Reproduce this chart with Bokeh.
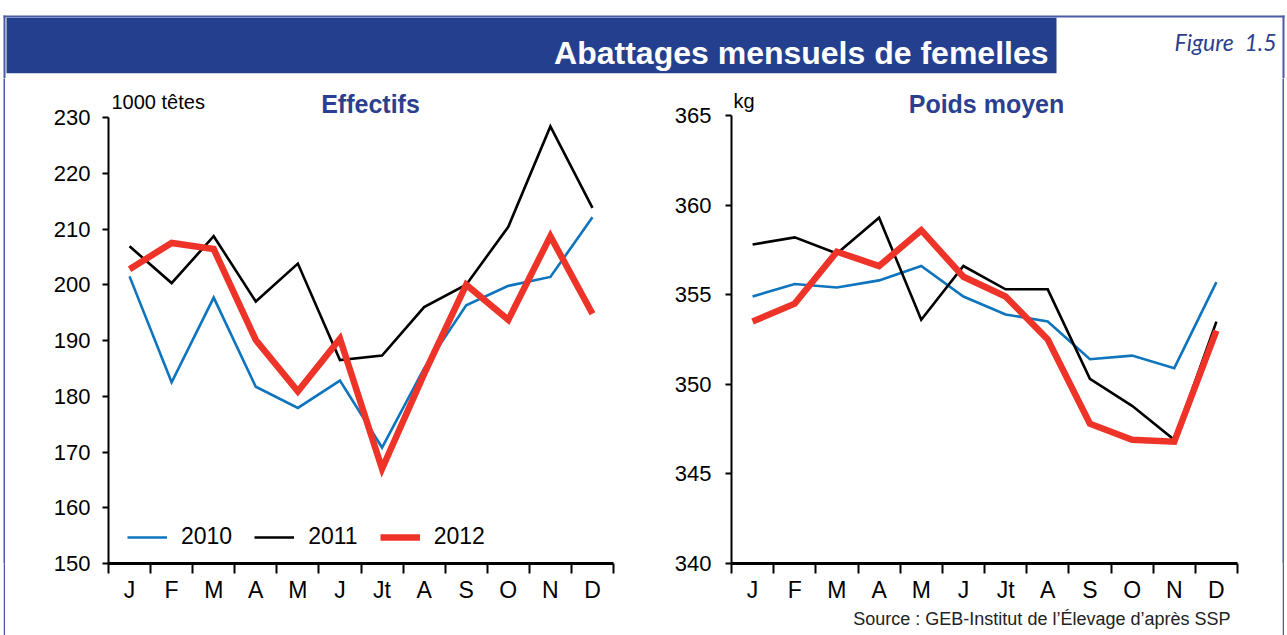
from bokeh.plotting import figure
from bokeh.layouts import column, row, Spacer
from bokeh.models import Range1d, FixedTicker, Label, Legend, LegendItem, Title
from bokeh.embed import file_html
from bokeh.resources import INLINE
from bokeh.core.properties import value

# ---------------- data ----------------
months = ["J", "F", "M", "A", "M", "J", "Jt", "A", "S", "O", "N", "D"]
years = ["2010", "2011", "2012"]

eff_2010 = [201.5, 182.5, 197.7, 181.7, 177.9, 182.8, 170.8, 185.0, 196.3, 199.8, 201.4, 212.1]
eff_2011 = [206.9, 200.3, 208.7, 197.0, 203.8, 186.5, 187.3, 196.0, 200.0, 210.4, 228.4, 213.8]
eff_2012 = [202.8, 207.5, 206.4, 190.1, 180.9, 190.3, 167.0, 184.0, 200.0, 193.7, 208.7, 194.8]

poids_2010 = [354.9, 355.6, 355.4, 355.8, 356.6, 354.9, 353.9, 353.5, 351.4, 351.6, 350.9, 355.7]
poids_2011 = [357.8, 358.2, 357.3, 359.3, 353.6, 356.6, 355.3, 355.3, 350.3, 348.8, 346.9, 353.5]
poids_2012 = [353.5, 354.5, 357.4, 356.6, 358.6, 356.0, 354.9, 352.5, 347.8, 346.9, 346.8, 353.0]

eff_ticks = [150, 160, 170, 180, 190, 200, 210, 220, 230]
poids_ticks = [340, 345, 350, 355, 360, 365]

title_text = "Abattages mensuels de femelles"
figure_text = "Figure\u00a0\u00a01.5"
source_text = "Source : GEB-Institut de l\u2019\u00c9levage d\u2019apr\u00e8s SSP"

# ---------------- styles ----------------
BLUE = "#0d74bd"
BLACK = "#000000"
RED = "#ee3328"
NAVY = "#253f8f"
TITLE_BLUE = "#2c3f8f"
BORDER = "#4b5aa6"
FONT = "Liberation Sans"

W = 1287
HEAD_H = 78
CH_H = 557
FRAME_H = 485          # frame reaches the top of the chart figures
BOTTOM_H = CH_H - FRAME_H
AXIS_PX = {"eff": 446, "poids": 448}   # pixel height of the tick span on each chart
x_pos = list(range(len(months)))


def make_chart(fig_w, border_left, frame_w, ticks, tick_px, ystand):
    lo, hi = ticks[0], ticks[-1]
    y_end = lo + (hi - lo) * FRAME_H / tick_px
    p = figure(width=fig_w, height=CH_H, frame_width=frame_w, frame_height=FRAME_H,
               min_border_left=border_left, min_border_right=fig_w - border_left - frame_w,
               min_border_top=0, min_border_bottom=BOTTOM_H,
               x_range=Range1d(-0.5, len(months) - 0.5), y_range=Range1d(lo, y_end),
               output_backend="svg", toolbar_location=None)
    p.grid.visible = False
    p.outline_line_color = None
    p.background_fill_color = "white"
    p.border_fill_color = "white"

    xa = p.xaxis[0]
    xa.ticker = FixedTicker(ticks=x_pos, minor_ticks=[i - 0.5 for i in range(len(months) + 1)])
    xa.major_label_overrides = {i: m for i, m in enumerate(months)}
    xa.major_tick_out = 0
    xa.major_tick_in = 0
    xa.minor_tick_out = 10
    xa.minor_tick_in = 0
    xa.minor_tick_line_width = 2
    xa.minor_tick_line_color = "black"
    xa.axis_line_width = 3
    xa.axis_line_color = "black"
    xa.major_label_standoff = 3
    xa.major_label_text_font = FONT
    xa.major_label_text_font_size = "23px"
    xa.major_label_text_color = "black"

    ya = p.yaxis[0]
    ya.ticker = FixedTicker(ticks=ticks)
    ya.bounds = (lo, hi)
    ya.major_tick_out = 6
    ya.major_tick_in = 0
    ya.minor_tick_out = 0
    ya.minor_tick_in = 0
    ya.major_tick_line_width = 2
    ya.major_tick_line_color = "black"
    ya.axis_line_width = 2
    ya.axis_line_color = "black"
    ya.major_label_standoff = ystand
    ya.major_label_text_font = FONT
    ya.major_label_text_font_size = "22px"
    ya.major_label_text_color = "black"
    return p


def add_series(p, s10, s11, s12):
    r10 = p.line(x_pos, s10, line_color=BLUE, line_width=2.6, line_join="miter")
    r11 = p.line(x_pos, s11, line_color=BLACK, line_width=2.6, line_join="miter")
    r12 = p.line(x_pos, s12, line_color=RED, line_width=6.5, line_join="miter")
    return [r10, r11, r12]


def screen_label(p, x, y, text, size, color="black", bold=False, align="left", font=FONT):
    p.add_layout(Label(x=x, y=y, x_units="screen", y_units="screen", text=text,
                       text_font=font, text_font_size=size, text_color=color,
                       text_font_style="bold" if bold else "normal",
                       text_align=align, text_baseline="alphabetic"))


# ---------------- header ----------------
header = figure(width=W, height=HEAD_H, x_range=Range1d(0, W), y_range=Range1d(HEAD_H, 0),
                min_border=0, x_axis_type=None, y_axis_type=None,
                output_backend="svg", toolbar_location=None)
header.grid.visible = False
header.outline_line_color = None
header.background_fill_color = "white"
header.border_fill_color = "white"
header.quad(left=[3], right=[1284], top=[15], bottom=[17], fill_color=BORDER, line_color=None)
header.quad(left=[3, 1282], right=[5, 1284], top=[15, 15], bottom=[HEAD_H, HEAD_H],
            fill_color=BORDER, line_color=None)
header.quad(left=[6], right=[1056], top=[17.3], bottom=[72.7], fill_color=NAVY, line_color=None)
header.text(x=[1048], y=[52.7], text=[title_text], text_align="right", text_baseline="alphabetic",
            text_font=value(FONT), text_font_style="bold", text_font_size="32px", text_color="white")
header.text(x=[1276], y=[41.7], text=[figure_text], text_align="right", text_baseline="alphabetic",
            text_font=value("Lato"), text_font_style="italic", text_font_size="23px", text_color=TITLE_BLUE)

# ---------------- left chart ----------------
left = make_chart(655, 103, 505, eff_ticks, AXIS_PX["eff"], 12)
rl = add_series(left, eff_2010, eff_2011, eff_2012)
legend = Legend(items=[LegendItem(label=y, renderers=[r]) for y, r in zip(years, rl)],
                orientation="horizontal", location=(19, 13),
                glyph_width=40, glyph_height=26, label_height=26, label_standoff=14, spacing=22,
                padding=0, margin=0, border_line_color=None, background_fill_alpha=0,
                label_text_font=FONT, label_text_font_size="23px", label_text_color="black")
left.add_layout(legend)
screen_label(left, 3, 462, "1000 t\u00eates", "20px")
screen_label(left, 262, 460, "Effectifs", "25px", TITLE_BLUE, bold=True, align="center")

# ---------------- right chart ----------------
right = make_chart(622, 71, 506, poids_ticks, AXIS_PX["poids"], 14)
add_series(right, poids_2010, poids_2011, poids_2012)
screen_label(right, 2, 463, "kg", "20px")
screen_label(right, 255, 460, "Poids moyen", "25px", TITLE_BLUE, bold=True, align="center")
right.add_layout(Title(text=source_text, align="right", offset=7, standoff=3,
                       text_font=FONT, text_font_size="18px", text_font_style="normal",
                       text_color="#222222"), "below")


# ---------------- side borders ----------------
def border_strip():
    b = figure(frame_width=2, frame_height=FRAME_H, min_border_left=0, min_border_right=0,
               min_border_top=0, min_border_bottom=BOTTOM_H,
               x_range=Range1d(0, 1), y_range=Range1d(0, 1),
               x_axis_type=None, y_axis_type=None,
               output_backend="svg", toolbar_location=None)
    b.grid.visible = False
    b.outline_line_color = None
    b.background_fill_color = BORDER
    b.border_fill_color = BORDER
    return b


layout = column(header, row(Spacer(width=3, height=CH_H), border_strip(), left, right,
                            border_strip(), Spacer(width=3, height=CH_H)))
open("out.html", "w").write(file_html(layout, INLINE))
